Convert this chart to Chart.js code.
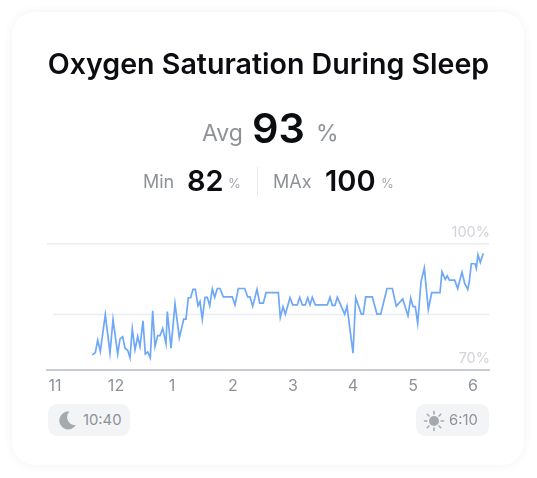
<!DOCTYPE html>
<html>
<head>
<meta charset="utf-8">
<title>Oxygen Saturation During Sleep</title>
<script src="https://cdn.jsdelivr.net/npm/chart.js@4"></script>
<style>
  html, body { margin: 0; padding: 0; background: #fff; }
  body { width: 537px; height: 478px; position: relative; overflow: hidden; font-family: Inter, sans-serif; }
  #card { position: absolute; left: 12px; top: 12px; width: 512px; height: 453px; border-radius: 22px; background: #fff; box-shadow: 0 0 10px rgba(60, 70, 90, .07); }
  #chart { position: absolute; left: 0; top: 0; }
  .t { position: absolute; white-space: nowrap; line-height: 1; }
  #title { left: 0; width: 537px; text-align: center; top: 50px; font-size: 28.6px; font-weight: 600; color: #0c0d10; }
  .grey { color: #8d9198; }
  .light { color: #a4a8ae; }
  .num { color: #0c0d10; font-weight: 600; }
  #divider { position: absolute; left: 257px; top: 167px; width: 1px; height: 30px; background: #e6e9ef; }
  .pill { position: absolute; top: 404px; height: 32px; background: #f3f4f6; border-radius: 9px; }
  .pill svg { position: absolute; top: 6px; }
  .pill span { position: absolute; top: 9px; font-size: 14.8px; line-height: 1; color: #8d9198; }
</style>
</head>
<body>
<div id="card"></div>
<canvas id="chart" width="537" height="478"></canvas>
<div class="t" id="title">Oxygen Saturation During Sleep</div>
<div class="t grey" style="left:202px;top:122px;font-size:23px">Avg</div>
<div class="t num" style="left:252px;top:108px;font-size:41.5px">93</div>
<div class="t grey" style="left:316px;top:122px;font-size:23px">%</div>
<div class="t grey" style="left:143px;top:173px;font-size:18px">Min</div>
<div class="t num" style="left:187px;top:166px;font-size:29px">82</div>
<div class="t light" style="left:228px;top:177px;font-size:13px">%</div>
<div id="divider"></div>
<div class="t grey" style="left:273px;top:173px;font-size:18px">MAx</div>
<div class="t num" style="left:325px;top:166px;font-size:29px">100</div>
<div class="t light" style="left:381px;top:177px;font-size:13px">%</div>
<div class="pill" style="left:48px;width:82px">
  <svg style="left:9px" width="20" height="20" viewBox="0 0 20 20"><path fill="#a5a9b0" d="M12.5 1.5a9 9 0 1 0 6.5 13.6A8 8 0 0 1 12.5 1.5z"/></svg>
  <span style="left:35px">10:40</span>
</div>
<div class="pill" style="left:416px;width:73px">
  <svg style="left:7px" width="22" height="22" viewBox="0 0 22 22"><circle cx="11" cy="11" r="5" fill="#a5a9b0"/><g stroke="#a5a9b0" stroke-width="1.6" stroke-linecap="round"><path d="M11 1.5v2.4M11 18.1v2.4M1.5 11h2.4M18.1 11h2.4M4.3 4.3 6 6M16 16l1.7 1.7M4.3 17.7 6 16M16 6l1.7-1.7"/></g></svg>
  <span style="left:33px">6:10</span>
</div>
<script>
// minutes after 11 o'clock
const times = [39.3,42.3,44.7,47.3,52.3,57,60,64.7,67,69.7,72,74.7,77,79.3,82,84.7,87,90,92.3,94.7,97.3,99.7,102,104.7,107,109.7,113,114.3,118,122,126.3,130.7,133,135.3,137.7,140,142.3,145,147,149.3,152,154.3,156.7,159.3,161.7,164.3,167,170.3,179.3,182,185.3,191.7,194.7,197,199.7,204,206.7,210.3,213,217,225.3,227.3,230,232.3,237,239.7,244.3,246.7,249.3,252.3,254.7,257,259.3,262.3,274.3,277,279.3,282,284.3,291.7,294,300,302.7,308.3,310.3,312.7,319.3,324,327.7,334,339.3,343.3,349.7,355,357.7,360,362.3,364.7,368,371.3,375.3,378.7,387,389,392.3,394.3,396.3,401.7,404.7,409,411.7,414.7,416.3,418.3,422,423.3,425,427.3,430.3]
const spo2 = [73.6,74.1,77.1,74.4,83.2,74,82,73.8,77.4,77.9,75.2,74.7,72.9,79.8,74.8,78,75.6,81.7,73.8,74.3,72.9,84.1,75.6,78.2,78.2,79.9,76.3,83.9,75.2,85.8,77.7,82.1,82.1,87.2,87.2,89.2,89.2,85.3,86.3,82.1,87.3,87.3,85.3,89.3,87.3,89.4,89.4,87.4,87.4,85.5,89.4,89.4,87.4,87.4,85.2,89.2,85.9,85.9,88.4,88.4,88.4,82.5,85.1,83.3,87.2,85.5,85.5,87.3,85.5,85.5,87.2,85.5,87.3,85.5,85.5,87.3,85.4,85.4,87.3,83.3,85.2,74,87.2,83.3,83.3,87.4,87.4,83.3,83.3,89.4,89.4,85.2,86.9,82.9,87.1,85.1,85.1,81.1,91,94.3,84.4,88.4,88.4,93.4,91.6,92.4,91.4,91.4,89.4,93.3,90.6,89.2,91,95.3,95.3,94.2,97.4,95.6,97.8]
const hourTicks = [2, 63, 119, 180, 240, 300, 360, 420]
const hourLabels = ["11", "12", "1", "2", "3", "4", "5", "6"]
const yTicks = [70, 100]
const midLine = 83.2

new Chart(document.getElementById("chart"), {
  type: "line",
  data: {
    datasets: [
      {
        data: times.map((t, i) => ({ x: t, y: spo2[i] })),
        borderColor: "#6ea8f7",
        borderWidth: 1.7,
        pointRadius: 0,
        tension: 0,
        order: 1
      },
      {
        data: [{ x: 0, y: midLine }, { x: 436, y: midLine }],
        borderColor: "#e8ecf3",
        borderWidth: 1.5,
        pointRadius: 0,
        order: 2
      }
    ]
  },
  options: {
    responsive: false,
    animation: false,
    devicePixelRatio: 1,
    layout: { padding: { left: 47, right: 48, top: 244, bottom: 78 } },
    plugins: { legend: { display: false }, tooltip: { enabled: false } },
    scales: {
      x: {
        type: "linear",
        min: -6,
        max: 436,
        afterBuildTicks: s => { s.ticks = hourTicks.map(v => ({ value: v })) },
        afterFit: s => { s.height = 30 },
        grid: { display: false },
        border: { color: "#c9ccd3", width: 2 },
        ticks: {
          autoSkip: false,
          maxRotation: 0,
          padding: -1,
          color: "#8d9198",
          font: { family: "Inter", size: 16 },
          callback: v => hourLabels[hourTicks.indexOf(v)]
        }
      },
      y: {
        position: "right",
        min: 70,
        max: 100,
        afterBuildTicks: s => { s.ticks = yTicks.map(v => ({ value: v })) },
        afterFit: s => { s.width = 0 },
        grid: { color: c => c.tick && c.tick.value === 100 ? "#e8ecf3" : "transparent", lineWidth: 1.5, drawTicks: false },
        border: { display: false },
        ticks: {
          mirror: true,
          padding: 1,
          labelOffset: -11,
          color: "#d0d3d9",
          font: { family: "Inter", size: 14.5 },
          callback: v => v + "%"
        }
      }
    }
  }
})
</script>
</body>
</html>
